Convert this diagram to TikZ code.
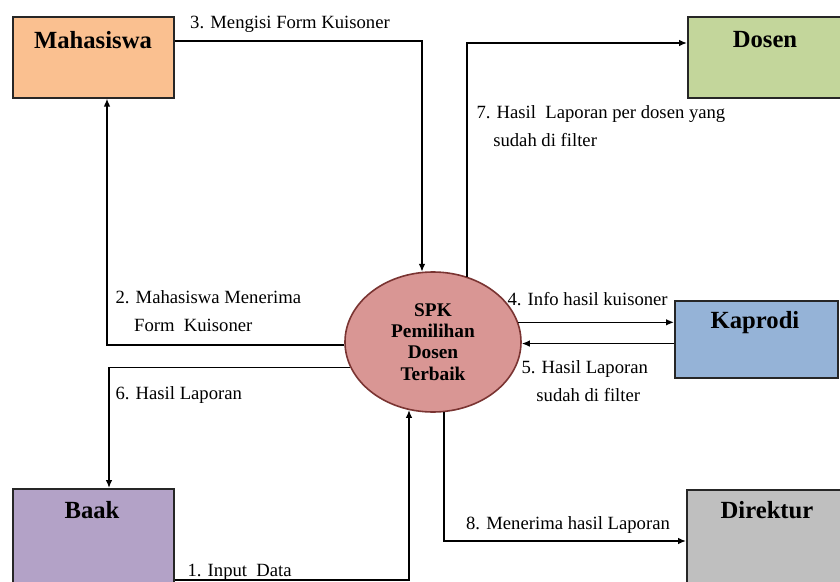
\documentclass[tikz,border=0pt]{standalone}
\usepackage{fontspec}
\setmainfont{Liberation Serif}
\usetikzlibrary{shapes.geometric,arrows.meta}

\definecolor{clrMhs}{HTML}{FAC090}
\definecolor{clrDsn}{HTML}{C3D69B}
\definecolor{clrKpr}{HTML}{95B3D7}
\definecolor{clrBaak}{HTML}{B3A2C7}
\definecolor{clrDir}{HTML}{BFBFBF}
\definecolor{clrSpk}{HTML}{D99694}
\definecolor{clrSpkB}{HTML}{7A3432}

\tikzset{every picture/.style={line width=0.75pt}}
\tikzset{
	entity/.style={rectangle, draw=black!85, line width=1.2pt, inner sep=0pt, anchor=north west},
	entlbl/.style={inner sep=0pt, font=\fontsize{18.5pt}{22pt}\selectfont\bfseries},
	proc/.style={ellipse, draw=clrSpkB, line width=1.2pt, fill=clrSpk, inner sep=0pt,
		minimum width=132pt, minimum height=105pt, align=center,
		font=\fontsize{14.5pt}{16pt}\selectfont\bfseries},
	flow/.style={line width=1.1pt, -{Latex[length=6pt,width=5pt]}},
	lbl/.style={inner sep=0pt, align=left, font=\fontsize{14pt}{21pt}\selectfont},
}

\begin{document}
\begin{tikzpicture}[x=0.75pt,y=0.75pt,yscale=-1,xscale=1]
	\clip (0,0) rectangle (840,582);
	\fill[white] (0,0) rectangle (840,582);

	%Shape: Rectangle
	\node[entity, fill=clrMhs, minimum width=120.75pt, minimum height=60.75pt] (mhs) at (12,16) {};
	%Shape: Rectangle
	\node[entity, fill=clrDsn, minimum width=150pt, minimum height=60.75pt] (dsn) at (687,16) {};
	%Shape: Rectangle
	\node[entity, fill=clrKpr, minimum width=122.25pt, minimum height=57.75pt] (kpr) at (674,300) {};
	%Shape: Rectangle
	\node[entity, fill=clrBaak, minimum width=120.75pt, minimum height=90pt] (baak) at (12,488) {};
	%Shape: Rectangle
	\node[entity, fill=clrDir, minimum width=150pt, minimum height=90pt] (dir) at (686,489) {};
	%Shape: Ellipse
	\node[proc] (spk) at (433,342) {SPK\\Pemilihan\\Dosen\\Terbaik};

	% Text Node
	\node[entlbl] (mhstxt) at (93,40) {Mahasiswa};
	% Text Node
	\node[entlbl] (dsntxt) at (765,40) {Dosen};
	% Text Node
	\node[entlbl] (kprtxt) at (755,323) {Kaprodi};
	% Text Node
	\node[entlbl] (baaktxt) at (92,510) {Baak};
	% Text Node
	\node[entlbl] (dirtxt) at (767,510) {Direktur};

	% bend points
	\coordinate (c1) at (409,580);
	\coordinate (c2) at (107,345);
	\coordinate (c3) at (422,41);
	\coordinate (c6) at (109,367);
	\coordinate (c7) at (467,43);
	\coordinate (c8) at (444,541);

	% 1. Input Data
	\draw[flow] (baak.east |- c1) -- (c1) -- (c1 |- spk.250);
	% 2. Mahasiswa Menerima
	\draw[flow] (spk.182) -| (c2 |- mhs.south);
	% 3. Mengisi Form Kuisoner
	\draw[flow] (mhs.east |- c3) -- (c3) -- (c3 |- spk.99);
	% 4. Info hasil kuisoner
	\draw[flow] (spk.13) -- (spk.13 -| kpr.west);
	% 5. Hasil Laporan
	\draw[flow] (kpr.west |- spk.359) -- (spk.359);
	% 6. Hasil Laporan
	\draw[flow] (spk.197) -| (c6 |- baak.north);
	% 7. Hasil Laporan per dosen
	\draw[flow] (c7 |- spk.62) -- (c7) -- (c7 -| dsn.west);
	% 8. Menerima hasil Laporan
	\draw[flow] (c8 |- spk.279) -- (c8) -- (c8 -| dir.west);

	% Text Node
	\node[lbl] (l3) at (290,24) {3. Mengisi Form Kuisoner};
	% Text Node
	\node[lbl, anchor=west] (l2) at (115,311.5) {2. Mahasiswa Menerima\\\hspace*{1em}Form~~Kuisoner};
	% Text Node
	\node[lbl, anchor=west] (l7) at (476,126.5) {7. Hasil~~Laporan per dosen yang\\\hspace*{0.9em}sudah di filter};
	% Text Node
	\node[lbl, anchor=west] (l4) at (507,299) {4. Info hasil kuisoner};
	% Text Node
	\node[lbl, anchor=west] (l5) at (521,381) {5. Hasil Laporan\\\hspace*{0.8em}sudah di filter};
	% Text Node
	\node[lbl, anchor=west] (l6) at (115,395) {6. Hasil Laporan};
	% Text Node
	\node[lbl] (l8) at (568,525) {8. Menerima hasil Laporan};
	% Text Node
	\node[lbl, anchor=west] (l1) at (187,572) {1. Input~~Data};

\end{tikzpicture}
\end{document}
